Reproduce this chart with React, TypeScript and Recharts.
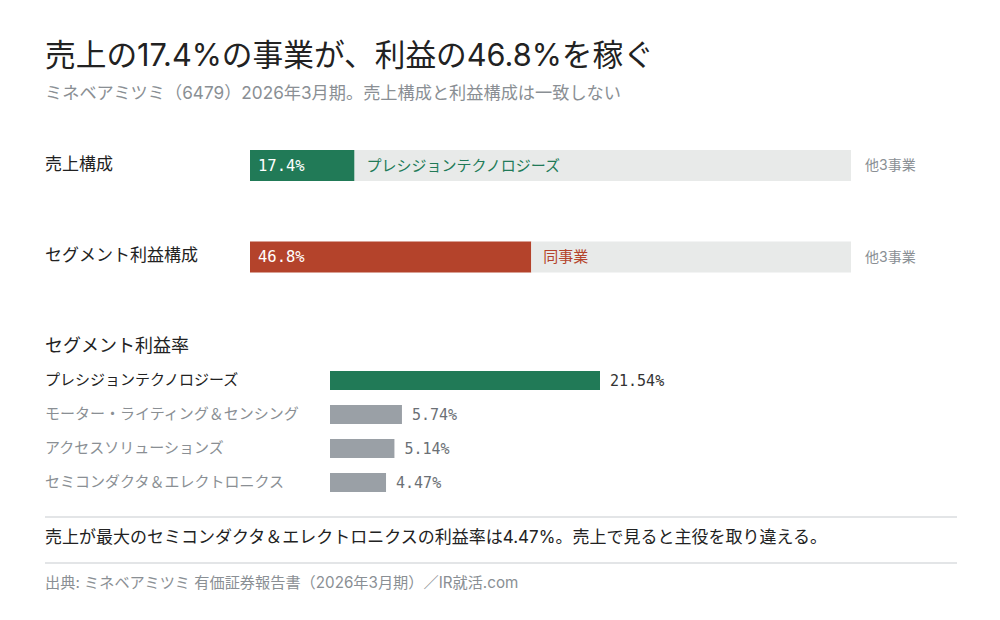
import { BarChart, Bar, XAxis, YAxis, Cell, LabelList } from 'recharts'

const FONT = 'Inter, "Noto Sans CJK JP", sans-serif'
const MONO = '"DejaVu Sans Mono", monospace'

// 売上構成 / 利益構成（ミネベアミツミ 2026年3月期）
const compRows = ['売上構成', 'セグメント利益構成']
const compShare = [17.4, 46.8]
const compRest = [82.6, 53.2]
const compName = ['プレシジョンテクノロジーズ', '同事業']
const compColor = ['#217a57', '#b4432b']
const restLabel = '他3事業'

// セグメント利益率
const segNames = ['プレシジョンテクノロジーズ', 'モーター・ライティング＆センシング', 'アクセスソリューションズ', 'セミコンダクタ＆エレクトロニクス']
const segMargin = [21.54, 5.74, 5.14, 4.47]

const compData = compRows.map((name, i) => ({
  name,
  share: compShare[i],
  rest: compRest[i],
  label: compName[i],
  color: compColor[i],
}))

const segData = segNames.map((name, i) => ({ name, margin: segMargin[i], hi: i === 0 }))

function CompTick(props: any) {
  return (
    <text x={45} y={props.y - 2} dy="0.35em" fontSize={17} fill="#222" fontFamily={FONT}>
      {props.payload.value}
    </text>
  )
}

function SegTick(props: any) {
  const first = props.index === 0
  return (
    <text x={45} y={props.y} dy="0.35em" fontSize={15} fill={first ? '#222' : '#8a8f94'} fontFamily={FONT}>
      {props.payload.value}
    </text>
  )
}

function ShareLabel(props: any) {
  const { x, y, width, height, index } = props
  const d = compData[index]
  const cy = y + height / 2
  return (
    <g>
      <text x={x + 8} y={cy} dy="0.35em" fontSize={15.5} fill="#fff" fontFamily={MONO}>
        {d.share.toFixed(1)}%
      </text>
      <text x={x + width + 12} y={cy} dy="0.35em" fontSize={15} fill={d.color} fontFamily={FONT}>
        {d.label}
      </text>
    </g>
  )
}

function RestLabel(props: any) {
  const { x, y, width, height } = props
  return (
    <text x={x + width + 14} y={y + height / 2} dy="0.35em" fontSize={14} fill="#8a8f94" fontFamily={FONT}>
      {restLabel}
    </text>
  )
}

function MarginLabel(props: any) {
  const { x, y, width, height, index } = props
  return (
    <text x={x + width + 10} y={y + height / 2} dy="0.35em" fontSize={15} fill={index === 0 ? '#333' : '#6b7075'} fontFamily={MONO}>
      {segMargin[index].toFixed(2)}%
    </text>
  )
}

export default function App() {
  return (
    <div style={{ position: 'absolute', left: 0, top: 0, width: 1000, height: 620, background: '#fff', fontFamily: FONT }}>
      <div style={{ position: 'absolute', left: 45, top: 35, fontSize: 30.7, color: '#222', lineHeight: '40px', whiteSpace: 'nowrap' }}>
        売上の17.4%の事業が、利益の46.8%を稼ぐ
      </div>
      <div style={{ position: 'absolute', left: 45, top: 81, fontSize: 17.2, color: '#8a8f94', lineHeight: '24px', whiteSpace: 'nowrap' }}>
        ミネベアミツミ（6479）2026年3月期。売上構成と利益構成は一致しない
      </div>

      <div style={{ position: 'absolute', left: 0, top: 120 }}>
        <BarChart width={1000} height={183} data={compData} layout="vertical" margin={{ top: 0, right: 149, bottom: 0, left: 0 }}>
          <XAxis type="number" domain={[0, 100]} hide />
          <YAxis type="category" dataKey="name" width={250} axisLine={false} tickLine={false} tick={CompTick} />
          <Bar dataKey="share" stackId="a" barSize={31} isAnimationActive={false}>
            {compData.map((d, i) => (
              <Cell key={i} fill={d.color} />
            ))}
            <LabelList dataKey="share" content={ShareLabel} />
          </Bar>
          <Bar dataKey="rest" stackId="a" barSize={31} fill="#e8eae9" isAnimationActive={false}>
            <LabelList dataKey="rest" content={RestLabel} />
          </Bar>
        </BarChart>
      </div>

      <div style={{ position: 'absolute', left: 45, top: 333, fontSize: 18, color: '#222', lineHeight: '26px', whiteSpace: 'nowrap' }}>
        セグメント利益率
      </div>

      <div style={{ position: 'absolute', left: 0, top: 362.5 }}>
        <BarChart width={1000} height={136} data={segData} layout="vertical" margin={{ top: 0, right: 400, bottom: 0, left: 0 }}>
          <XAxis type="number" domain={[0, 'dataMax']} hide />
          <YAxis type="category" dataKey="name" width={330} axisLine={false} tickLine={false} tick={SegTick} />
          <Bar dataKey="margin" barSize={19} isAnimationActive={false}>
            {segData.map((d, i) => (
              <Cell key={i} fill={d.hi ? '#217a57' : '#9aa0a6'} />
            ))}
            <LabelList dataKey="margin" content={MarginLabel} />
          </Bar>
        </BarChart>
      </div>

      <div style={{ position: 'absolute', left: 45, top: 516, width: 912, height: 2, background: '#e3e5e7' }} />
      <div style={{ position: 'absolute', left: 45, top: 524, fontSize: 17, color: '#222', lineHeight: '26px', whiteSpace: 'nowrap' }}>
        売上が最大のセミコンダクタ＆エレクトロニクスの利益率は4.47%。売上で見ると主役を取り違える。
      </div>
      <div style={{ position: 'absolute', left: 45, top: 562, width: 912, height: 2, background: '#e3e5e7' }} />
      <div style={{ position: 'absolute', left: 45, top: 572, fontSize: 15.2, color: '#8a8f94', lineHeight: '22px', whiteSpace: 'nowrap' }}>
        出典: ミネベアミツミ 有価証券報告書（2026年3月期）／IR就活.com
      </div>
    </div>
  )
}
